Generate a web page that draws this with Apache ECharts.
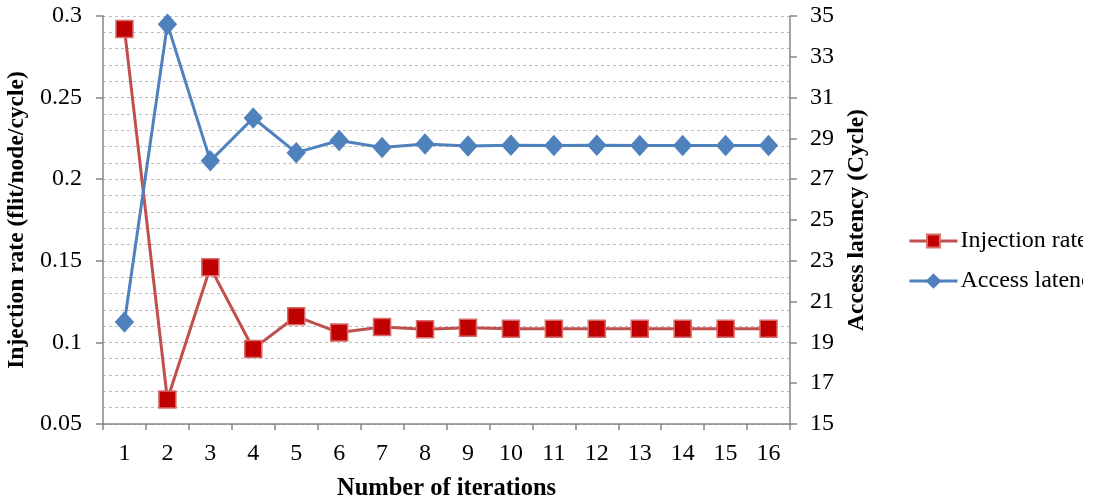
<!DOCTYPE html>
<html>
<head>
<meta charset="utf-8">
<script src="https://cdn.jsdelivr.net/npm/echarts@6/dist/echarts.min.js"></script>
<style>
html,body{margin:0;padding:0;background:#fff;overflow:hidden;}
#c{width:1083px;height:501px;}
</style>
</head>
<body>
<div id="c"></div>
<script>
const categories = ['1','2','3','4','5','6','7','8','9','10','11','12','13','14','15','16'];
const injectionRate = [0.292, 0.065, 0.146, 0.096, 0.116, 0.106, 0.1095, 0.108, 0.109, 0.1083, 0.1083, 0.1083, 0.1083, 0.1083, 0.1083, 0.1083];
const accessLatency = [20.0, 34.6, 27.9, 30.0, 28.3, 28.9, 28.55, 28.72, 28.63, 28.67, 28.65, 28.67, 28.65, 28.65, 28.65, 28.65];
const leftTicks = [0.05, 0.1, 0.15, 0.2, 0.25, 0.3];
const rightTicks = [15, 17, 19, 21, 23, 25, 27, 29, 31, 33, 35];

const font = 'Liberation Serif, Times New Roman, serif';
const axisGray = '#868686';
const chart = echarts.init(document.getElementById('c'));
chart.setOption({
  animation: false,
  grid: {left: 103, right: 293, top: 16, bottom: 77, outerBoundsMode: 'none', containLabel: false},
  legend: {
    orient: 'vertical', left: 908, top: 229, itemGap: 16, padding: 0,
    itemWidth: 48, itemHeight: 16,
    lineStyle: {width: 3},
    textStyle: {fontFamily: font, fontSize: 24, color: '#000', padding: [0, 0, 0, -2]},
    data: ['Injection rate', 'Access latency']
  },
  xAxis: {
    type: 'category', data: categories, boundaryGap: true,
    name: 'Number of iterations', nameLocation: 'middle', nameGap: 52,
    nameTextStyle: {fontFamily: font, fontSize: 24.5, fontWeight: 'bold', color: '#000'},
    axisLine: {lineStyle: {color: axisGray, width: 1.5}},
    axisTick: {show: true, length: 6, lineStyle: {color: axisGray, width: 1.5}},
    axisLabel: {fontFamily: font, fontSize: 24, color: '#000', margin: 18}
  },
  yAxis: [{
    type: 'value', min: leftTicks[0], max: leftTicks[leftTicks.length-1], interval: 0.05,
    name: 'Injection rate (flit/node/cycle)', nameLocation: 'middle', nameGap: 70,
    nameTextStyle: {fontFamily: font, fontSize: 23.5, fontWeight: 'bold', color: '#000'},
    axisLine: {show: true, lineStyle: {color: axisGray, width: 1.5}},
    axisTick: {show: true, length: 7, lineStyle: {color: axisGray, width: 1.5}},
    axisLabel: {fontFamily: font, fontSize: 24, color: '#000', margin: 21,
      formatter: v => String(Math.round(v*100)/100)},
    splitLine: {show: true, lineStyle: {color: '#bdbdbd', type: [3, 3], width: 1}},
    minorTick: {show: false, splitNumber: 5},
    minorSplitLine: {show: true, lineStyle: {color: '#bdbdbd', type: [3, 3], width: 1}}
  }, {
    type: 'value', min: rightTicks[0], max: rightTicks[rightTicks.length-1], interval: 2,
    name: 'Access latency (Cycle)', nameLocation: 'middle', nameGap: 53,
    nameTextStyle: {fontFamily: font, fontSize: 23.5, fontWeight: 'bold', color: '#000'},
    axisLine: {show: true, lineStyle: {color: axisGray, width: 1.5}},
    axisTick: {show: true, length: 7, lineStyle: {color: axisGray, width: 1.5}},
    axisLabel: {fontFamily: font, fontSize: 24, color: '#000', margin: 20},
    splitLine: {show: false}
  }],
  series: [{
    name: 'Injection rate', type: 'line', yAxisIndex: 0, data: injectionRate,
    symbol: 'rect', symbolSize: 17,
    lineStyle: {color: '#C0504D', width: 3},
    itemStyle: {color: '#C00000', borderColor: '#D86C6A', borderWidth: 1.5}
  }, {
    name: 'Access latency', type: 'line', yAxisIndex: 1, data: accessLatency,
    symbol: 'diamond', symbolSize: [18, 20],
    lineStyle: {color: '#4F81BD', width: 3},
    itemStyle: {color: '#4F81BD', borderColor: '#4F81BD', borderWidth: 1}
  }]
});
</script>
</body>
</html>
